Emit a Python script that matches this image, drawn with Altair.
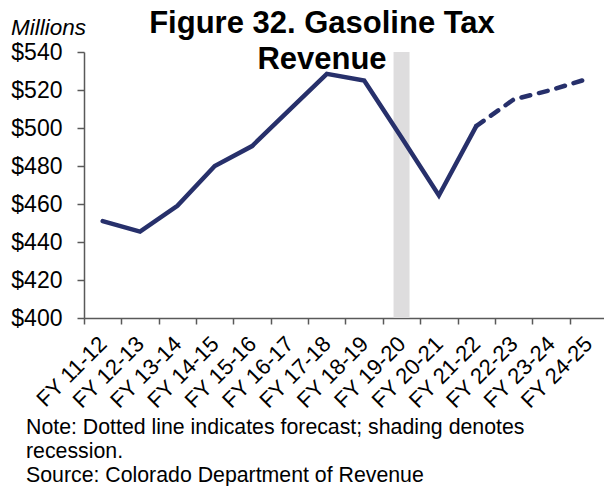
import altair as alt
import pandas as pd

# ---- data ----
years = ["FY 11-12", "FY 12-13", "FY 13-14", "FY 14-15", "FY 15-16", "FY 16-17",
         "FY 17-18", "FY 18-19", "FY 19-20", "FY 20-21", "FY 21-22", "FY 22-23",
         "FY 23-24", "FY 24-25"]
revenue = [451, 445.5, 459, 480, 490.5, 509.5, 528.5, 525, 495, 464.5, 501, 515, 520, 526]
forecast_start = "FY 21-22"
recession_years = ["FY 19-20"]
y_ticks = [400, 420, 440, 460, 480, 500, 520, 540]
title_lines = ["Figure 32. Gasoline Tax", "Revenue"]
unit_label = "Millions"
note_lines = ["Note: Dotted line indicates forecast; shading denotes",
              "recession.",
              "Source: Colorado Department of Revenue"]

FONT = "Liberation Sans, Arial, sans-serif"
NAVY = "#27306B"
AXIS_GRAY = "#595959"

idx = years.index(forecast_start)
rows = []
for i, (yr, v) in enumerate(zip(years, revenue)):
    if i <= idx:
        rows.append({"year": yr, "value": v, "series": "Actual"})
    if i >= idx:
        rows.append({"year": yr, "value": v, "series": "Forecast"})
df = pd.DataFrame(rows)

rec_df = pd.DataFrame({"year": recession_years,
                       "lo": [y_ticks[0]] * len(recession_years),
                       "hi": [y_ticks[-1]] * len(recession_years)})

x_scale = alt.Scale(type="band", domain=years, range=[0, 523],
                    paddingInner=0, paddingOuter=0)
x_axis = alt.Axis(title=None, tickBand="extent", labelAngle=-45,
                  labelAlign="right", labelBaseline="middle",
                  labelFontSize=22, labelFont=FONT, labelColor="black",
                  labelPadding=16, tickSize=6, tickColor=AXIS_GRAY,
                  domainColor=AXIS_GRAY, domainWidth=1.5, tickWidth=1.5,
                  labelOverlap=False, grid=False)
y_scale = alt.Scale(domain=[y_ticks[0], y_ticks[-1]], nice=False, zero=False)
y_axis = alt.Axis(title=None, values=y_ticks, labelExpr="'$' + datum.value",
                  labelFontSize=23, labelFont=FONT, labelColor="black",
                  labelPadding=15, tickSize=7, tickColor=AXIS_GRAY,
                  domainColor=AXIS_GRAY, domainWidth=1.5, tickWidth=1.5,
                  labelOverlap=False, labelFlush=False, grid=False)

band = alt.Chart(rec_df).mark_bar(size=16, color="#DEDDDE").encode(
    x=alt.X("year:N", sort=years, scale=x_scale, axis=x_axis),
    y=alt.Y("hi:Q", scale=y_scale, axis=y_axis),
    y2="lo:Q",
)

actual = alt.Chart(df).transform_filter(alt.datum.series == "Actual").mark_line(
    color=NAVY, strokeWidth=4.5, strokeCap="round", strokeJoin="miter"
).encode(
    x=alt.X("year:N", sort=years, bandPosition=0.5, scale=x_scale, axis=x_axis),
    y=alt.Y("value:Q", scale=y_scale, axis=y_axis),
)

forecast = alt.Chart(df).transform_filter(alt.datum.series == "Forecast").mark_line(
    color=NAVY, strokeWidth=4.5, strokeCap="round", strokeDash=[9, 9]
).encode(
    x=alt.X("year:N", sort=years, bandPosition=0.5, scale=x_scale, axis=x_axis),
    y=alt.Y("value:Q", scale=y_scale, axis=y_axis),
)

one = pd.DataFrame({"k": [0]})
title = alt.Chart(one).mark_text(
    font=FONT, fontSize=31, fontWeight="bold", color="black",
    align="center", baseline="alphabetic", lineBreak="\n", lineHeight=36
).encode(x=alt.value(238), y=alt.value(-19), text=alt.value("\n".join(title_lines)))

unit = alt.Chart(one).mark_text(
    font=FONT, fontSize=22.5, fontStyle="italic", color="black",
    align="left", baseline="alphabetic"
).encode(x=alt.value(-73), y=alt.value(-17), text=alt.value(unit_label))

note = alt.Chart(one).mark_text(
    font=FONT, fontSize=21.3, color="black",
    align="left", baseline="alphabetic", lineBreak="\n", lineHeight=24
).encode(x=alt.value(-58), y=alt.value(382), text=alt.value("\n".join(note_lines)))

chart = alt.layer(band, actual, forecast, title, unit, note).properties(
    width=520, height=266,
    autosize=alt.AutoSizeParams(type="none"),
    padding={"left": 84, "top": 52, "right": 0, "bottom": 168},
    background="white",
).configure_view(stroke=None)

chart.save("out.html", embed_options={"renderer": "svg", "actions": False})
